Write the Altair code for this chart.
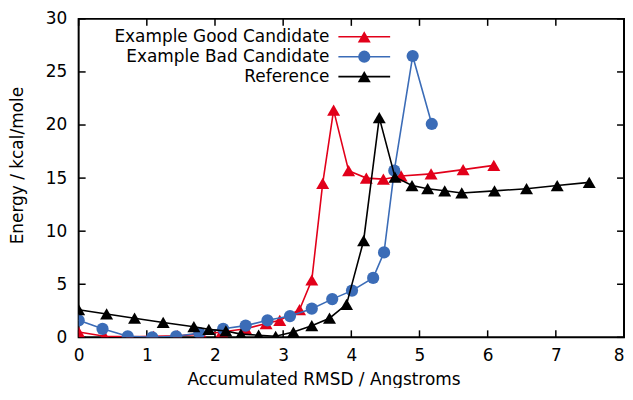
import altair as alt
import pandas as pd

# ---- data ----
good_x = [0.0, 0.38, 0.75, 1.10, 1.45, 1.80, 2.10, 2.45, 2.75, 2.95, 3.24, 3.42, 3.58, 3.74, 3.96, 4.22, 4.47, 4.73, 5.17, 5.64, 6.09]
good_y = [0.5, 0.1, 0.05, 0.1, 0.15, 0.3, 0.5, 0.8, 1.3, 1.6, 2.6, 5.4, 14.5, 21.4, 15.7, 15.0, 14.9, 15.2, 15.4, 15.8, 16.2]

bad_x = [0.0, 0.35, 0.72, 1.08, 1.43, 1.77, 2.12, 2.45, 2.77, 3.10, 3.42, 3.72, 4.01, 4.32, 4.48, 4.63, 4.90, 5.18]
bad_y = [1.6, 0.8, 0.1, 0.0, 0.1, 0.4, 0.8, 1.1, 1.6, 2.0, 2.7, 3.6, 4.4, 5.6, 8.0, 15.7, 26.5, 20.1]

ref_x = [0.0, 0.41, 0.82, 1.24, 1.69, 1.91, 2.16, 2.38, 2.64, 2.89, 3.15, 3.42, 3.68, 3.93, 4.18, 4.41, 4.64, 4.89, 5.12, 5.37, 5.62, 6.10, 6.57, 7.02, 7.49]
ref_y = [2.6, 2.2, 1.8, 1.4, 1.0, 0.75, 0.6, 0.3, 0.2, 0.1, 0.5, 1.1, 1.8, 3.1, 9.1, 20.7, 15.1, 14.3, 14.0, 13.8, 13.6, 13.8, 14.0, 14.3, 14.6]

names = ["Example Good Candidate", "Example Bad Candidate", "Reference"]
colors = ["#e2001a", "#3b6cb7", "#000000"]
shapes = ["triangle-up", "circle", "triangle-up"]
sizes = [170, 150, 170]

x_ticks = [0, 1, 2, 3, 4, 5, 6, 7, 8]
y_ticks = [0, 5, 10, 15, 20, 25, 30]

FONT = "DejaVu Sans"
W, H = 548, 320

x_scale = alt.Scale(domain=[0, 8], nice=False, zero=False)
y_scale = alt.Scale(domain=[0, 30], nice=False, zero=False)

x_axis = alt.Axis(title="Accumulated RMSD / Angstroms", values=x_ticks, format="d",
                  domain=False, ticks=False, grid=False, labelPadding=10,
                  labelAlign={"condition": {"test": "datum.value == 8", "value": "right"}, "value": "center"},
                  titleX=246, titleY=47, titleBaseline="alphabetic", labelFlush=False)
y_axis = alt.Axis(title="Energy / kcal/mole", values=y_ticks, format="d",
                  domain=False, ticks=False, grid=False, labelPadding=12,
                  titleX=-61, titleY=147, titleBaseline="middle", titleAlign="center",
                  labelFlush=False)

series = [(good_x, good_y), (bad_x, bad_y), (ref_x, ref_y)]
layers = []
for (xs, ys), name, col, shp, sz in zip(series, names, colors, shapes, sizes):
    df = pd.DataFrame({"x": xs, "y": ys, "i": list(range(len(xs)))})
    base = alt.Chart(df).encode(
        x=alt.X("x:Q", scale=x_scale, axis=x_axis),
        y=alt.Y("y:Q", scale=y_scale, axis=y_axis),
        order="i:Q",
    )
    layers.append(base.mark_line(color=col, strokeWidth=1.6, clip=True))
    layers.append(base.mark_point(color=col, shape=shp, size=sz, filled=True, opacity=1, clip=True))

# inward ticks (mirrored on all four sides)
xt = pd.DataFrame({"x": x_ticks})
yt = pd.DataFrame({"y": y_ticks})
tick_style = dict(color="black", strokeWidth=1.5)
ticks = [
    alt.Chart(xt).mark_rule(**tick_style).encode(x=alt.X("x:Q", scale=x_scale, axis=x_axis), y=alt.value(H), y2=alt.value(H - 7)),
    alt.Chart(xt).mark_rule(**tick_style).encode(x=alt.X("x:Q", scale=x_scale, axis=x_axis), y=alt.value(0), y2=alt.value(7)),
    alt.Chart(yt).mark_rule(**tick_style).encode(y=alt.Y("y:Q", scale=y_scale, axis=y_axis), x=alt.value(0), x2=alt.value(7)),
    alt.Chart(yt).mark_rule(**tick_style).encode(y=alt.Y("y:Q", scale=y_scale, axis=y_axis), x=alt.value(W), x2=alt.value(W - 7)),
]

# legend (gnuplot style: label on left, sample on right)
legend = []
for k, (name, col, shp, sz) in enumerate(zip(names, colors, shapes, sizes)):
    yy = 18 + 20 * k
    ld = pd.DataFrame({"label": [name]})
    legend.append(alt.Chart(ld).mark_text(align="right", baseline="middle", font=FONT, fontSize=17, color="black")
                  .encode(text="label:N", x=alt.value(252), y=alt.value(yy)))
    legend.append(alt.Chart(ld).mark_rule(color=col, strokeWidth=1.6)
                  .encode(x=alt.value(261), x2=alt.value(313), y=alt.value(yy)))
    legend.append(alt.Chart(ld).mark_point(color=col, shape=shp, size=sz, filled=True, opacity=1)
                  .encode(x=alt.value(287), y=alt.value(yy)))

chart = alt.layer(*ticks, *layers, *legend).properties(
    width=W, height=H,
    autosize=alt.AutoSizeParams(type="none"),
    padding={"left": 71, "top": 10, "right": 1, "bottom": 50},
).configure_view(
    stroke="black", strokeWidth=2
).configure_axis(
    labelFont=FONT, titleFont=FONT, labelFontSize=17, titleFontSize=17,
    labelColor="black", titleColor="black", titleFontWeight="normal",
).configure_axisX(
    labelBaseline="top"
)

chart.save("out.html", embed_options={"renderer": "svg", "actions": False})
